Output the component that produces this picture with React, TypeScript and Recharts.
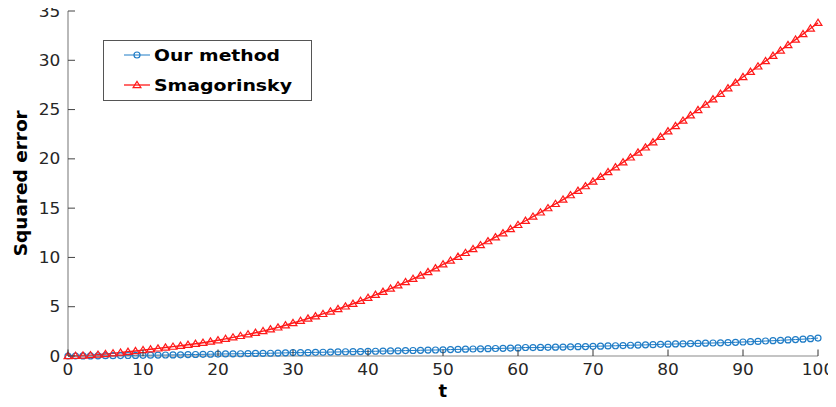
import React from "react";
import { LineChart, Line, XAxis, YAxis, Legend } from "recharts";

const tValues: number[] = Array.from({ length: 101 }, (_, i) => i);

const ourMethod: number[] = [
  0, 0.0, 0.01, 0.01, 0.02, 0.03, 0.03, 0.04, 0.05, 0.06,
  0.07, 0.08, 0.09, 0.1, 0.11, 0.12, 0.14, 0.15, 0.17, 0.18,
  0.2, 0.21, 0.22, 0.23, 0.25, 0.26, 0.27, 0.28, 0.3, 0.32,
  0.35, 0.34, 0.35, 0.37, 0.38, 0.4, 0.41, 0.43, 0.44, 0.45,
  0.47, 0.48, 0.5, 0.51, 0.53, 0.55, 0.56, 0.58, 0.6, 0.61,
  0.63, 0.65, 0.67, 0.69, 0.71, 0.73, 0.74, 0.76, 0.78, 0.8,
  0.82, 0.86, 0.85, 0.87, 0.88, 0.9, 0.91, 0.93, 0.95, 0.96,
  0.98, 1.0, 1.02, 1.04, 1.06, 1.09, 1.11, 1.13, 1.15, 1.18,
  1.2, 1.22, 1.24, 1.26, 1.28, 1.3, 1.32, 1.34, 1.36, 1.39,
  1.42, 1.45, 1.48, 1.52, 1.55, 1.59, 1.63, 1.67, 1.71, 1.76,
  1.82,
];

const smagorinsky: number[] = [
  0, 0.02, 0.05, 0.09, 0.14, 0.2, 0.27, 0.35, 0.43, 0.51,
  0.6, 0.68, 0.77, 0.86, 0.95, 1.04, 1.14, 1.24, 1.35, 1.47,
  1.6, 1.74, 1.89, 2.04, 2.2, 2.36, 2.53, 2.71, 2.9, 3.12,
  3.35, 3.57, 3.8, 4.03, 4.27, 4.52, 4.77, 5.03, 5.3, 5.6,
  5.9, 6.21, 6.52, 6.84, 7.17, 7.5, 7.83, 8.17, 8.52, 8.9,
  9.3, 9.68, 10.07, 10.46, 10.85, 11.25, 11.65, 12.05, 12.46, 12.88,
  13.3, 13.72, 14.14, 14.57, 15.0, 15.43, 15.87, 16.32, 16.77, 17.23,
  17.7, 18.18, 18.66, 19.15, 19.65, 20.15, 20.65, 21.16, 21.69, 22.24,
  22.8, 23.34, 23.88, 24.42, 24.96, 25.5, 26.05, 26.61, 27.17, 27.73,
  28.3, 28.84, 29.38, 29.92, 30.46, 31.0, 31.55, 32.1, 32.66, 33.23,
  33.8,
];

const xTicks: number[] = [0, 10, 20, 30, 40, 50, 60, 70, 80, 90, 100];
const yTicks: number[] = [0, 5, 10, 15, 20, 25, 30, 35];

const seriesNames = ["Our method", "Smagorinsky"];

const data = tValues.map((t, i) => ({ t, ours: ourMethod[i], smag: smagorinsky[i] }));

const BLUE = "#1f7cc6";
const RED = "#ff1a1a";
const TXT = "#262626";
const FONT = "DejaVu Sans, sans-serif";

const CHAR_W = 10.8;

const BottomTick = (props: any) => {
  const { x, y, payload } = props;
  const s = String(payload.value);
  return (
    <g>
      <line x1={x} x2={x} y1={y} y2={y - 6.5} stroke="#333" strokeWidth={1} />
      <text x={x} y={y + 19} textAnchor="middle" fontSize={15} fontFamily={FONT} fill={TXT}
        textLength={s.length * CHAR_W} lengthAdjust="spacingAndGlyphs">{s}</text>
    </g>
  );
};

const TopTick = (props: any) => {
  const { x, y } = props;
  return <line x1={x} x2={x} y1={y} y2={y + 6} stroke="#333" strokeWidth={1} />;
};

const LeftTick = (props: any) => {
  const { x, y, payload } = props;
  const s = String(payload.value);
  return (
    <g>
      <line x1={x} x2={x + 7} y1={y} y2={y} stroke="#444" strokeWidth={1} />
      <text x={x - 7.7} y={y + 5.5} textAnchor="end" fontSize={15} fontFamily={FONT} fill={TXT}
        textLength={s.length * CHAR_W} lengthAdjust="spacingAndGlyphs">{s}</text>
    </g>
  );
};

const RightTick = (props: any) => {
  const { x, y } = props;
  return <line x1={x} x2={x - 7.5} y1={y} y2={y} stroke="#333" strokeWidth={1} />;
};

const CircleDot = (props: any) => {
  const { cx, cy, index } = props;
  if (cx == null || cy == null) return <g key={index} />;
  return <circle key={index} cx={cx} cy={cy} r={3} fill="none" stroke={BLUE} strokeWidth={1.2} />;
};

const TriDot = (props: any) => {
  const { cx, cy, index } = props;
  if (cx == null || cy == null) return <g key={index} />;
  const pts = `${cx},${cy - 3.6} ${cx - 3.9},${cy + 2.6} ${cx + 3.9},${cy + 2.6}`;
  return <polygon key={index} points={pts} fill="none" stroke={RED} strokeWidth={1.2} />;
};

const LegendBox = () => (
  <svg width={210} height={62} style={{ display: "block" }}>
    <rect x={0.5} y={0.5} width={208} height={60} fill="#fff" stroke="#555" strokeWidth={1} />
    <line x1={21} x2={47} y1={15} y2={15} stroke={BLUE} strokeWidth={1} />
    <circle cx={34} cy={15} r={3} fill="none" stroke={BLUE} strokeWidth={1.2} />
    <text x={51} y={20.5} fontSize={16} fontWeight="bold" fontFamily={FONT} fill="#000"
      textLength={126} lengthAdjust="spacingAndGlyphs">{seriesNames[0]}</text>
    <line x1={21} x2={47} y1={45} y2={45} stroke={RED} strokeWidth={1.3} />
    <polygon points={`34,41.4 30.1,47.6 37.9,47.6`} fill="none" stroke={RED} strokeWidth={1.2} />
    <text x={51} y={50.5} fontSize={16} fontWeight="bold" fontFamily={FONT} fill="#000"
      textLength={138} lengthAdjust="spacingAndGlyphs">{seriesNames[1]}</text>
  </svg>
);

export default function App() {
  return (
    <div style={{ width: 836, height: 407, position: "relative", margin: -8 }}>
      <LineChart width={836} height={407} data={data} margin={{ top: 11, right: 18, left: 0, bottom: 0 }}
        style={{ overflow: "visible" }}>
        <XAxis dataKey="t" type="number" domain={[0, 100]} ticks={xTicks} height={51}
          axisLine={{ stroke: "#8a8a8a", strokeWidth: 1.2 }} tickLine={false} tickSize={0} tickMargin={0}
          tick={<BottomTick />} interval={0} />
        <XAxis xAxisId="top" orientation="top" dataKey="t" type="number" domain={[0, 100]} ticks={xTicks} height={0}
          axisLine={{ stroke: "#333", strokeWidth: 1 }} tickLine={false} tickSize={0} tickMargin={0}
          tick={<TopTick />} interval={0} />
        <YAxis type="number" domain={[0, 35]} ticks={yTicks} width={68}
          axisLine={{ stroke: "#8a8a8a", strokeWidth: 1.2 }} tickLine={false} tickSize={0} tickMargin={0}
          tick={<LeftTick />} interval={0} />
        <YAxis yAxisId="right" orientation="right" type="number" domain={[0, 35]} ticks={yTicks} width={0}
          axisLine={{ stroke: "#333", strokeWidth: 1 }} tickLine={false} tickSize={0} tickMargin={0}
          tick={<RightTick />} interval={0} />
        <Line type="linear" dataKey="ours" stroke={BLUE} strokeWidth={1} dot={<CircleDot />}
          isAnimationActive={false} name={seriesNames[0]} />
        <Line type="linear" dataKey="smag" stroke={RED} strokeWidth={1.4} dot={<TriDot />}
          isAnimationActive={false} name={seriesNames[1]} />
        <Legend layout="vertical" align="center" verticalAlign="middle" content={<LegendBox />}
          wrapperStyle={{ position: "absolute", left: 103, top: 40, width: 210, height: 62 }} />
      </LineChart>
      <svg width={836} height={407} style={{ position: "absolute", left: 0, top: 0, pointerEvents: "none" }}>
        <text x={442.7} y={397} textAnchor="middle" fontSize={18} fontWeight="bold" fontFamily={FONT} fill="#000">t</text>
        <text transform="translate(26.5 183.3) rotate(-90)" textAnchor="middle" fontSize={17} fontWeight="bold"
          fontFamily={FONT} fill="#000" textLength={146} lengthAdjust="spacingAndGlyphs">Squared error</text>
      </svg>
    </div>
  );
}
